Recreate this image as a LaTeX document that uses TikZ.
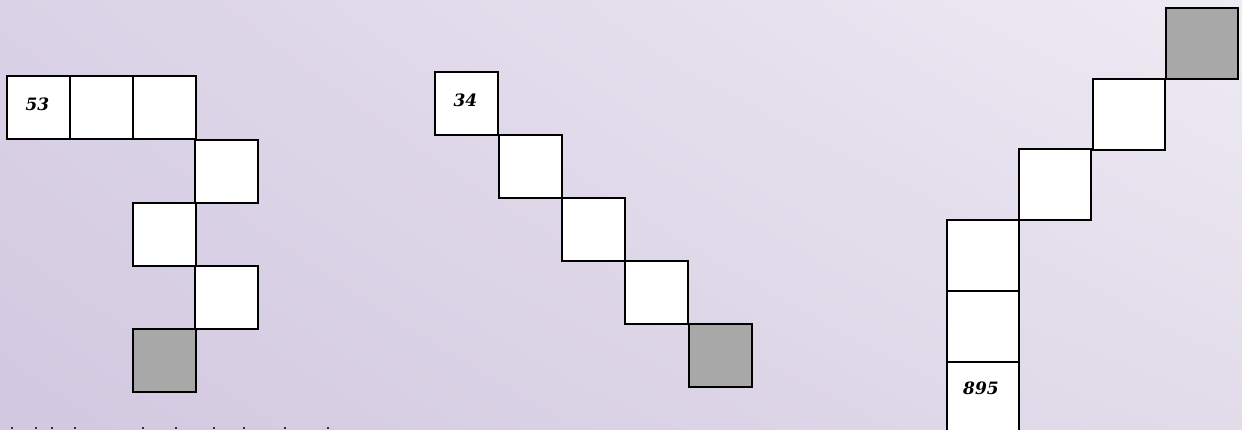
\documentclass[tikz,border=0pt]{standalone}
\usepackage{fontspec}
\usetikzlibrary{shadings}
\newfontfamily\numfont{DejaVu Serif}
\definecolor{bgLL}{RGB}{210,200,224}
\definecolor{bgUL}{RGB}{218,210,230}
\definecolor{bgLR}{RGB}{226,220,234}
\definecolor{bgUR}{RGB}{238,235,244}
\definecolor{cellgray}{RGB}{168,168,168}
\begin{document}
\begin{tikzpicture}[x=1pt,y=-1pt,
  cell/.style={draw=black, line width=1.8pt, fill=white, inner sep=0pt,
    minimum width=63pt, minimum height=63pt, anchor=north west},
  bigcell/.style={cell, minimum width=72pt, minimum height=71pt},
  dark/.style={fill=cellgray},
  num/.style={inner sep=0pt, font=\numfont\fontsize{17}{17}\selectfont\bfseries\itshape},
  tick/.style={fill=black!80, draw=none}]
\useasboundingbox (0,0) rectangle (1242,429);
\clip (0,0) rectangle (1242,429);
\shade[lower left=bgLL, upper left=bgUL, lower right=bgLR, upper right=bgUR]
  (0,0) rectangle (1242,429);
% left group
\node[cell] (a1) at (6,75) {};
\node[cell] (a2) at (69,75) {};
\node[cell] (a3) at (132,75) {};
\node[cell] (a4) at (194,139) {};
\node[cell] (a5) at (132,202) {};
\node[cell] (a6) at (194,265) {};
\node[cell,dark] (a7) at (132,328) {};
\node[num] (t53) at ([xshift=-1pt,yshift=3pt]a1.center) {53};
% middle group
\node[cell] (b1) at (434,71) {};
\node[cell] (b2) at (498,134) {};
\node[cell] (b3) at (561,197) {};
\node[cell] (b4) at (624,260) {};
\node[cell,dark] (b5) at (688,323) {};
\node[num] (t34) at ([xshift=-1pt,yshift=3pt]b1.center) {34};
% right group
\node[bigcell,dark] (c1) at (1165,7) {};
\node[bigcell] (c2) at (1092,78) {};
\node[bigcell] (c3) at (1018,148) {};
\node[bigcell] (c4) at (946,219) {};
\node[bigcell] (c5) at (946,290) {};
\node[bigcell] (c6) at (946,361) {};
\node[num] (t895) at ([xshift=-2pt,yshift=9pt]c6.center) {895};
% cut-off text line at the bottom edge
\foreach \xx in {12,36,52,75,143,176,214,244,285,328}
  \fill[tick] (\xx-1,427) rectangle (\xx+1.2,429);
\end{tikzpicture}
\end{document}
